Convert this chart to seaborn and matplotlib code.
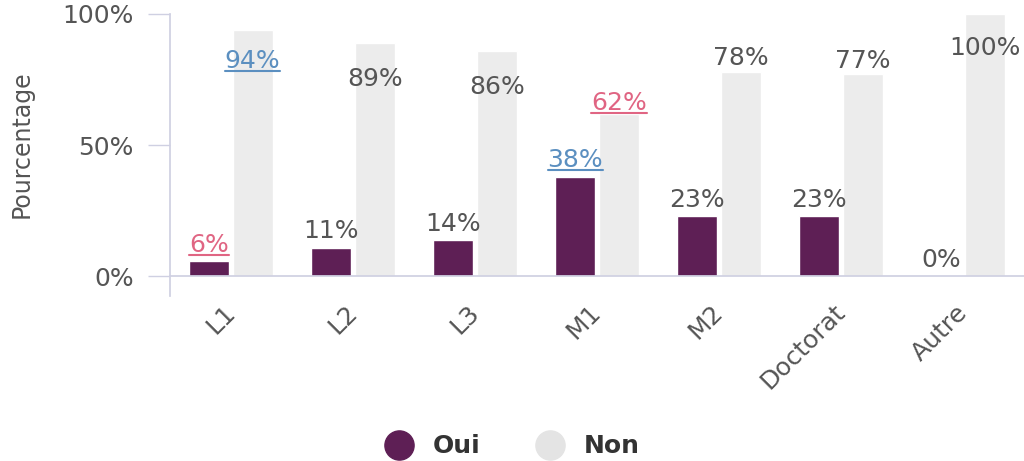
import pandas as pd
import matplotlib.pyplot as plt
import matplotlib.transforms as mtransforms
import seaborn as sns
from matplotlib.lines import Line2D

niveaux = ['L1', 'L2', 'L3', 'M1', 'M2', 'Doctorat', 'Autre']
oui = [6, 11, 14, 38, 23, 23, 0]
non = [94, 89, 86, 62, 78, 77, 100]

# where the "Non" labels sit (data units), as in the original
non_label_y = [82, 75, 72, 66, 83, 82, 87]
# highlighted labels (colour, underlined)
oui_label_color = {0: '#e06583', 3: '#5b8fc0'}
non_label_color = {0: '#5b8fc0', 3: '#e06583'}

OUI_COLOR = '#5e1f55'
NON_COLOR = '#ececec'
TEXT_GREY = '#555555'
AXIS_COLOR = '#cfd0e2'
FS = 18


def main():
    sns.set_theme(style='white')
    plt.rcParams['font.family'] = ['DejaVu Sans']

    df = pd.DataFrame({
        'niveau': niveaux * 2,
        'pct': oui + non,
        'reponse': ['Oui'] * len(niveaux) + ['Non'] * len(niveaux),
    })

    fig = plt.figure(figsize=(10.24, 4.61), dpi=100)
    ax = fig.add_axes([0.166, 0.357, 0.834, 0.613])

    sns.barplot(data=df, x='niveau', y='pct', hue='reponse', order=niveaux,
                hue_order=['Oui', 'Non'], palette=[OUI_COLOR, NON_COLOR],
                width=0.71, gap=0.07, saturation=1, legend=False, ax=ax)

    ax.set_xlim(-0.5, len(niveaux) - 0.5)
    ax.set_ylim(-7.6, 100)
    ax.set_yticks([0, 50, 100])
    ax.set_yticklabels(['0%', '50%', '100%'], fontsize=FS, color=TEXT_GREY)
    ax.set_ylabel('Pourcentage', fontsize=17, color=TEXT_GREY)
    ax.yaxis.set_label_coords(-0.160, 0.54)
    ax.set_xlabel('')

    ax.set_xticks([i - 0.5 for i in range(len(niveaux) + 1)], minor=True)
    ax.tick_params(axis='x', which='major', length=0, pad=17, labelrotation=45,
                   labelsize=FS, labelcolor=TEXT_GREY)
    ax.tick_params(axis='x', which='minor', length=14, width=1, color=AXIS_COLOR,
                   direction='out')
    ax.tick_params(axis='y', length=16, width=1, color=AXIS_COLOR, pad=10,
                   direction='out', left=True)

    for side in ['top', 'right']:
        ax.spines[side].set_visible(False)
    ax.spines['bottom'].set_position(('data', 0))
    ax.spines['bottom'].set_color(AXIS_COLOR)
    ax.spines['left'].set_color(AXIS_COLOR)
    ax.grid(False)

    texts = []
    bars = ax.patches
    oui_bars = bars[:len(niveaux)]
    non_bars = bars[len(niveaux):2 * len(niveaux)]
    for i, b in enumerate(oui_bars):
        cx = b.get_x() + b.get_width() / 2
        c = oui_label_color.get(i, TEXT_GREY)
        t = ax.annotate(f'{oui[i]}%', (cx, oui[i]), xytext=(0, 3),
                        textcoords='offset points', ha='center', va='bottom',
                        fontsize=FS, color=c)
        if i in oui_label_color:
            texts.append((t, c))
    for i, b in enumerate(non_bars):
        cx = b.get_x() + b.get_width() / 2
        c = non_label_color.get(i, TEXT_GREY)
        t = ax.text(cx, non_label_y[i], f'{non[i]}%', ha='center', va='center',
                    fontsize=FS, color=c)
        if i in non_label_color:
            texts.append((t, c))

    handles = [
        Line2D([], [], marker='o', ls='', markersize=21, color=OUI_COLOR),
        Line2D([], [], marker='o', ls='', markersize=21, color='#e4e4e4'),
    ]
    fig.legend(handles, ['Oui', 'Non'], loc='lower center',
               bbox_to_anchor=(0.495, -0.043), ncol=2, frameon=False,
               prop={'weight': 'bold', 'size': 18}, labelcolor='#333333',
               handletextpad=0.35, columnspacing=1.8)

    fig.canvas.draw()
    shift = mtransforms.ScaledTranslation(-0.08, 0, fig.dpi_scale_trans)
    for lab in ax.get_xticklabels():
        lab.set_ha('right')
        lab.set_rotation_mode('anchor')
        lab.set_transform(lab.get_transform() + shift)

    # underline the highlighted labels
    inv = fig.transFigure.inverted()
    for t, c in texts:
        bb = t.get_window_extent()
        (x0, y0), (x1, _) = inv.transform([[bb.x0, bb.y0 + 2], [bb.x1, bb.y0 + 2]])
        fig.add_artist(Line2D([x0, x1], [y0, y0], color=c, lw=1.5,
                              transform=fig.transFigure))

    fig.savefig('out.png', dpi=100)
    plt.close(fig)


if __name__ == '__main__':
    main()
